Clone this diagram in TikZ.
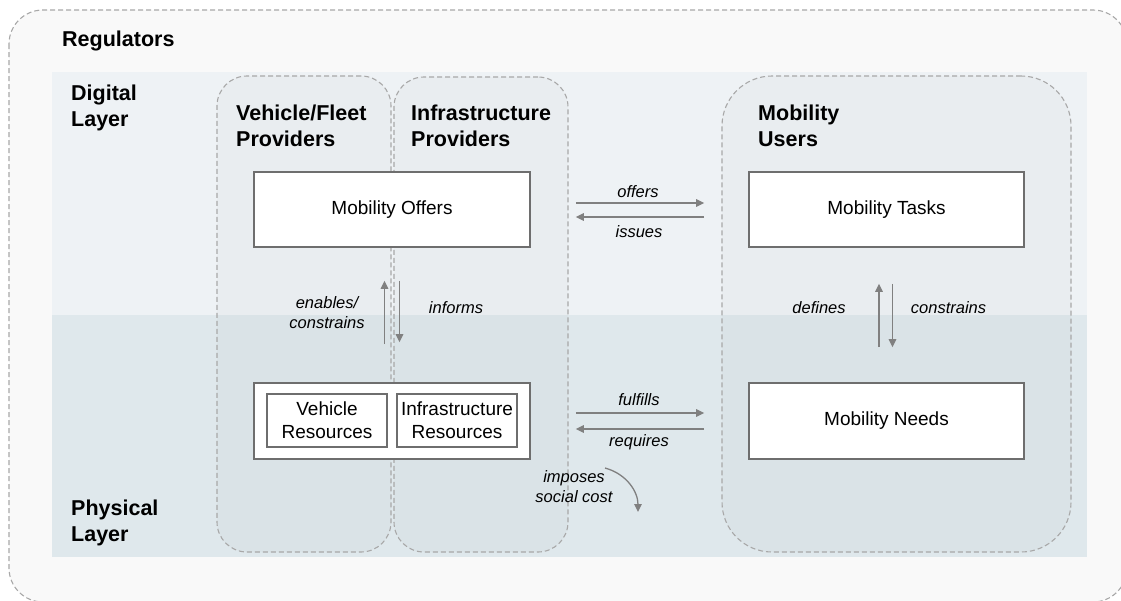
\documentclass[tikz,border=0pt]{standalone}
\usepackage{fontspec}
\setmainfont{Liberation Sans}
\usetikzlibrary{arrows.meta}
\definecolor{outerfill}{HTML}{F9F9F9}
\definecolor{digitalband}{HTML}{EEF2F5}
\definecolor{physband}{HTML}{DFE8EC}
\definecolor{dashgray}{HTML}{A8A8A8}
\definecolor{boxgray}{HTML}{6E6E6E}
\definecolor{arrowgray}{HTML}{808080}
\tikzset{
  regdash/.style={draw=dashgray, line width=1.1pt, dash pattern=on 5pt off 3pt},
  groupbox/.style={regdash, fill=black, fill opacity=0.018, text opacity=1, inner sep=0pt},
  heading/.style={font=\fontsize{21.5}{26}\selectfont\bfseries, align=left, inner sep=0pt, anchor=north west},
  mainbox/.style={draw=boxgray, line width=1.6pt, fill=white, font=\fontsize{19}{23}\selectfont, align=center, inner sep=0pt},
  lbl/.style={font=\fontsize{16.5}{20}\selectfont\itshape, align=center, inner sep=0pt},
  rel/.style={draw=arrowgray, line width=1.3pt, -{Triangle[length=8pt,width=7.5pt]}},
}
\begin{document}
\begin{tikzpicture}[x=1pt,y=-1pt]
\useasboundingbox (0,0) rectangle (1121,600);
\clip (0,0) rectangle (1121,600);
% Regulators frame
\draw[regdash, fill=outerfill, rounded corners=34pt] (9,10) rectangle (1127,602);
% layer bands
\fill[digitalband] (52,72) rectangle (1087,315);
\fill[physband] (52,315) rectangle (1087,557);
% provider / user groups
\node[groupbox, rounded corners=30pt, minimum width=174pt, minimum height=476pt] (vfp) at (304,314) {};
\node[groupbox, rounded corners=30pt, minimum width=174pt, minimum height=475pt] (ifp) at (481,314.5) {};
\node[groupbox, rounded corners=50pt, minimum width=349pt, minimum height=476pt] (mu) at (896.5,314) {};
% headings
\node[heading, anchor=base west] (reg) at (62,46) {Regulators};
\node[heading] (dig) at (71,85) {Digital\\Layer};
\node[heading] (phys) at (71,500) {Physical\\Layer};
\node[heading] (vfph) at (236,105) {Vehicle/Fleet\\Providers};
\node[heading] (ifph) at (411,105) {Infrastructure\\Providers};
\node[heading] (muh) at (758,105) {Mobility\\Users};
% main boxes
\node[mainbox, minimum width=276pt, minimum height=75pt] (offers) at (392,209.5) {Mobility Offers};
\node[mainbox, minimum width=275pt, minimum height=75pt] (tasks) at (886.5,209.5) {Mobility Tasks};
\node[mainbox, minimum width=276pt, minimum height=76pt] (res) at (392,421) {};
\node[mainbox, line width=1.3pt, minimum width=120pt, minimum height=53pt] (vres) at (327,420.5) {Vehicle\\Resources};
\node[mainbox, line width=1.3pt, minimum width=120pt, minimum height=53pt] (ires) at (457,420.5) {Infrastructure\\Resources};
\node[mainbox, minimum width=275pt, minimum height=76pt] (needs) at (886.5,421) {Mobility Needs};
% horizontal relations
\draw[rel, shorten <=45pt, shorten >=44pt] ([yshift=6.5pt]offers.east) -- ([yshift=6.5pt]tasks.west);
\draw[rel, shorten <=44pt, shorten >=45pt] ([yshift=-7.5pt]tasks.west) -- ([yshift=-7.5pt]offers.east);
\draw[rel, shorten <=45pt, shorten >=44pt] ([yshift=8pt]res.east) -- ([yshift=8pt]needs.west);
\draw[rel, shorten <=44pt, shorten >=45pt] ([yshift=-8pt]needs.west) -- ([yshift=-8pt]res.east);
% vertical relations
\draw[rel, shorten <=38pt, shorten >=33pt] ([xshift=-7.5pt]res.north) -- ([xshift=-7.5pt]offers.south);
\draw[rel, shorten <=33pt, shorten >=40pt] ([xshift=7.5pt]offers.south) -- ([xshift=7.5pt]res.north);
\draw[rel, shorten <=35pt, shorten >=36pt] ([xshift=-7.5pt]needs.north) -- ([xshift=-7.5pt]tasks.south);
\draw[rel, shorten <=36pt, shorten >=35pt] ([xshift=6pt]tasks.south) -- ([xshift=6pt]needs.north);
% social cost
\coordinate (sc1) at (605,468);
\coordinate (sc2) at (638,512);
\draw[rel] (sc1) .. controls (627,474) and (638,492) .. (sc2);
% labels
\node[lbl, anchor=base] (l-offers) at (638,197) {offers};
\node[lbl, anchor=base] (l-issues) at (639,237.5) {issues};
\node[lbl, anchor=base] (l-fulfills) at (639,405) {fulfills};
\node[lbl, anchor=base] (l-requires) at (639,446) {requires};
\node[lbl] (l-enables) at (327,313) {enables/\\constrains};
\node[lbl, anchor=base] (l-informs) at (456,313.5) {informs};
\node[lbl, anchor=base] (l-defines) at (819,313) {defines};
\node[lbl, anchor=base] (l-constr) at (948.5,313) {constrains};
\node[lbl] (l-imposes) at (574,487) {imposes\\social cost};
\end{tikzpicture}
\end{document}
